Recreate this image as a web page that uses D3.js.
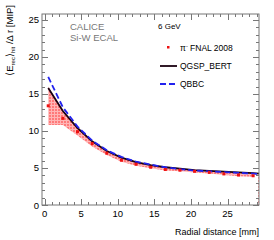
<!DOCTYPE html>
<html>
<head>
<meta charset="utf-8">
<script src="https://cdn.jsdelivr.net/npm/d3@7"></script>
<style>
body { margin: 0; background: #fff; }
text { font-family: "Liberation Sans", Arial, sans-serif; }
</style>
</head>
<body>
<svg id="chart" width="274" height="240"></svg>
<script>
// radial bins (mm)
var radius = [0.5, 2.5, 4.5, 6.5, 8.5, 10.5, 12.5, 14.5, 16.5, 18.5, 20.5, 22.5, 24.5, 26.5, 28.5];
// data, pi- FNAL 2008
var dataVal = [13.4, 11.7, 9.9, 8.3, 7.0, 6.05, 5.5, 5.1, 4.8, 4.7, 4.55, 4.4, 4.2, 4.05, 3.95];
var sysLow  = [10.8, 10.8, 9.4, 7.9, 6.75, 5.85, 5.3, 4.95, 4.65, 4.55, 4.4, 4.25, 4.05, 3.9, 3.8];
var sysHigh = [16.0, 12.7, 10.4, 8.6, 7.3, 6.4, 5.8, 5.4, 5.1, 4.9, 4.7, 4.6, 4.45, 4.35, 4.25];
// simulations
var qgspBert = [15.8, 12.7, 10.4, 8.6, 7.3, 6.4, 5.8, 5.4, 5.1, 4.9, 4.7, 4.6, 4.5, 4.4, 4.3];
var qbbc     = [17.3, 13.2, 10.6, 8.7, 7.4, 6.5, 5.85, 5.45, 5.1, 4.85, 4.65, 4.55, 4.45, 4.35, 4.25];

var xTicks = [0, 5, 10, 15, 20, 25];
var yTicks = [0, 5, 10, 15, 20, 25];

var padL = 42, padR = 259, padT = 14, padB = 205;
var frameColor = "#777";

var svg = d3.select("#chart");

var x = d3.scaleLinear().domain([-0.35, 29.3]).range([padL, padR]);
var y = d3.scaleLinear().domain([0, 25.8]).range([padB, padT]);

// hatch pattern for the systematic band
var defs = svg.append("defs");
var pat = defs.append("pattern")
    .attr("id", "hatch")
    .attr("patternUnits", "userSpaceOnUse")
    .attr("width", 3).attr("height", 3);
pat.append("rect").attr("width", 3).attr("height", 3).attr("fill", "#ff7a7a");
pat.append("rect").attr("width", 3).attr("height", 1).attr("fill", "#ffb5b5");
pat.append("rect").attr("width", 1).attr("height", 3).attr("fill", "#ffb5b5");

var band = d3.area()
    .x(function(d, i) { return x(radius[i]); })
    .y0(function(d, i) { return y(sysLow[i]); })
    .y1(function(d, i) { return y(sysHigh[i]); });

svg.append("path")
    .datum(radius)
    .attr("d", band)
    .attr("fill", "url(#hatch)");

// pink edge at the right border
svg.append("line")
    .attr("x1", padR - 0.5).attr("x2", padR - 0.5)
    .attr("y1", y(sysLow[sysLow.length - 1])).attr("y2", padB)
    .attr("stroke", "#ff9c9c").attr("stroke-width", 1)
    .attr("stroke-dasharray", "2,1");

var line = function(vals) {
    return d3.line()
        .x(function(d, i) { return x(radius[i]); })
        .y(function(d) { return y(d); })(vals);
};

// curves run on to the right border
svg.append("path")
    .attr("d", line(qgspBert) + "L" + padR + "," + y(qgspBert[qgspBert.length - 1] - 0.05))
    .attr("fill", "none")
    .attr("stroke", "#1a0010")
    .attr("stroke-width", 1.8);

svg.append("path")
    .attr("d", line(qbbc) + "L" + padR + "," + y(qbbc[qbbc.length - 1] - 0.05))
    .attr("fill", "none")
    .attr("stroke", "#2222ee")
    .attr("stroke-width", 1.8)
    .attr("stroke-dasharray", "6,3");

// data points
svg.selectAll("rect.pt")
    .data(dataVal)
    .enter().append("rect")
    .attr("class", "pt")
    .attr("x", function(d, i) { return x(radius[i]) - 1.5; })
    .attr("y", function(d) { return y(d) - 1.5; })
    .attr("width", 3).attr("height", 3)
    .attr("fill", "#ee1111");

// frame
svg.append("rect")
    .attr("x", padL).attr("y", padT)
    .attr("width", padR - padL).attr("height", padB - padT)
    .attr("fill", "none").attr("stroke", frameColor).attr("stroke-width", 1);

// ticks
var g = svg.append("g").attr("stroke", frameColor).attr("stroke-width", 1);
d3.range(0, 30, 1).forEach(function(v) {
    var len = (v % 5 == 0) ? 6 : 3;
    var px = Math.round(x(v)) + 0.5;
    g.append("line").attr("x1", px).attr("x2", px).attr("y1", padB).attr("y2", padB - len);
    g.append("line").attr("x1", px).attr("x2", px).attr("y1", padT).attr("y2", padT + len);
});
d3.range(0, 26, 1).forEach(function(v) {
    var len = (v % 5 == 0) ? 6 : 3;
    var py = Math.round(y(v)) + 0.5;
    g.append("line").attr("x1", padL).attr("x2", padL + len).attr("y1", py).attr("y2", py);
    g.append("line").attr("x1", padR).attr("x2", padR - len).attr("y1", py).attr("y2", py);
});

// tick labels
svg.selectAll("text.xl")
    .data(xTicks)
    .enter().append("text")
    .attr("x", function(d) { return x(d); })
    .attr("y", padB + 12)
    .attr("text-anchor", "middle")
    .attr("font-size", 9.5)
    .text(function(d) { return d; });

svg.selectAll("text.yl")
    .data(yTicks)
    .enter().append("text")
    .attr("x", padL - 3)
    .attr("y", function(d) { return y(d) + 3.5; })
    .attr("text-anchor", "end")
    .attr("font-size", 9.5)
    .text(function(d) { return d; });

// axis titles
svg.append("text")
    .attr("x", padR).attr("y", 235)
    .attr("text-anchor", "end")
    .attr("font-size", 9)
    .text("Radial distance [mm]");

var yt = svg.append("text")
    .attr("transform", "translate(13,5) rotate(-90)")
    .attr("text-anchor", "end")
    .attr("font-size", 9.5);
yt.append("tspan").text("\u27e8E");
yt.append("tspan").attr("font-size", 6).attr("dy", 2).text("rec");
yt.append("tspan").attr("dy", -2).text("\u27e9");
yt.append("tspan").attr("font-size", 6).attr("dy", 2).text("hit");
yt.append("tspan").attr("dy", -2).text(" /\u0394 r [MIP]");

// labels
svg.append("text").attr("x", 70).attr("y", 30)
    .attr("font-size", 9.5).attr("fill", "#777").text("CALICE");
svg.append("text").attr("x", 70).attr("y", 41)
    .attr("font-size", 9.5).attr("fill", "#777").text("Si-W ECAL");

svg.append("text").attr("x", 158).attr("y", 29)
    .attr("font-size", 8).text("6 GeV");

// legend
svg.append("rect").attr("x", 167).attr("y", 46).attr("width", 2.5).attr("height", 2.5).attr("fill", "#ee1111");
var lt = svg.append("text").attr("x", 180).attr("y", 51).attr("font-size", 8.5);
lt.append("tspan").text("\u03c0");
lt.append("tspan").attr("font-size", 5.5).attr("dy", -3).text("-");
lt.append("tspan").attr("dy", 3).text(" FNAL 2008");

svg.append("line").attr("x1", 160).attr("x2", 177).attr("y1", 66).attr("y2", 66)
    .attr("stroke", "#1a0010").attr("stroke-width", 1.8);
svg.append("text").attr("x", 180).attr("y", 69).attr("font-size", 8.5).text("QGSP_BERT");

svg.append("line").attr("x1", 160).attr("x2", 177).attr("y1", 84).attr("y2", 84)
    .attr("stroke", "#2222ee").attr("stroke-width", 1.8).attr("stroke-dasharray", "6,3");
svg.append("text").attr("x", 180).attr("y", 87).attr("font-size", 8.5).text("QBBC");
</script>
</body>
</html>
